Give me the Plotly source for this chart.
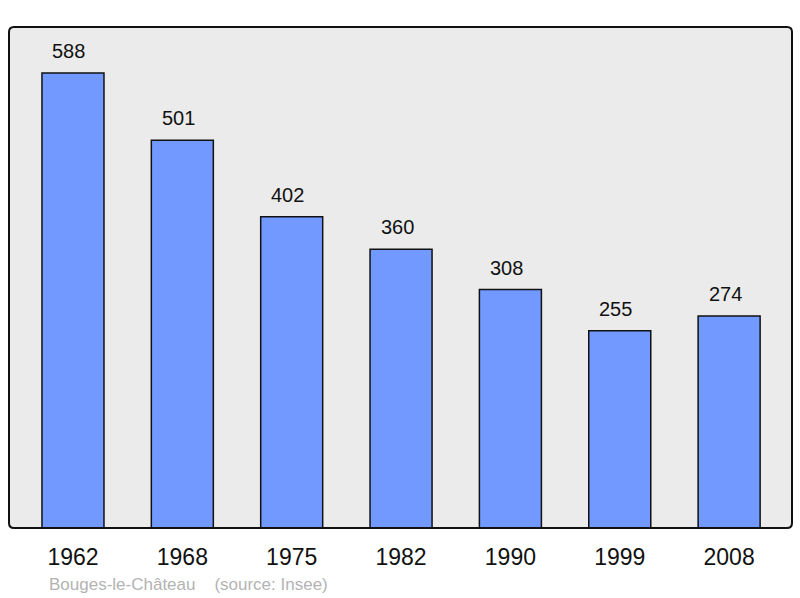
import plotly.graph_objects as go

years = ["1962", "1968", "1975", "1982", "1990", "1999", "2008"]
population = [588, 501, 402, 360, 308, 255, 274]
source_text = "Bouges-le-Château    (source: Insee)"

FONT = "Liberation Sans, Arial, sans-serif"

fig = go.Figure()
fig.add_trace(go.Bar(
    x=years, y=population, width=0.567,
    marker=dict(color="#7199ff", line=dict(color="#111111", width=1.5)),
    hoverinfo="skip",
))

for i, v in enumerate(population):
    fig.add_annotation(x=i, y=v, text=str(v), showarrow=False,
                       yanchor="bottom", yshift=9, xshift=-4,
                       font=dict(family=FONT, size=20, color="#111111"))

# rounded plot frame
w, h = 783.0, 501.0
rx, ry = 5 / w, 5 / h
path = (f"M {rx},0 L {1-rx},0 Q 1,0 1,{ry} L 1,{1-ry} Q 1,1 {1-rx},1 "
        f"L {rx},1 Q 0,1 0,{1-ry} L 0,{ry} Q 0,0 {rx},0 Z")
fig.add_shape(type="path", path=path, xref="paper", yref="paper",
              fillcolor="#ebebeb", line=dict(width=0), layer="below")
fig.add_shape(type="path", path=path, xref="paper", yref="paper",
              line=dict(color="#111111", width=2), layer="above")

fig.add_annotation(x=0, xref="paper", xanchor="left", xshift=38,
                   y=-56 / 501, yref="paper", yanchor="middle", text=source_text,
                   showarrow=False,
                   font=dict(family=FONT, size=17, color="#b3b3b3"))

fig.update_layout(
    width=800, height=598,
    margin=dict(l=9, r=8, t=27, b=70),
    paper_bgcolor="white", plot_bgcolor="rgba(0,0,0,0)",
    showlegend=False,
    font=dict(family=FONT),
    xaxis=dict(type="category", range=[-0.585, 6.575], showgrid=False,
               zeroline=False, showline=False, ticks="outside", ticklen=8,
               tickcolor="rgba(0,0,0,0)",
               tickfont=dict(family=FONT, size=23, color="#111111")),
    yaxis=dict(range=[0, 647.3], showgrid=False, zeroline=False,
               showticklabels=False, showline=False),
)
fig.write_html("out.html", config={"displayModeBar": False},
               post_script="document.body.style.margin='0';")
